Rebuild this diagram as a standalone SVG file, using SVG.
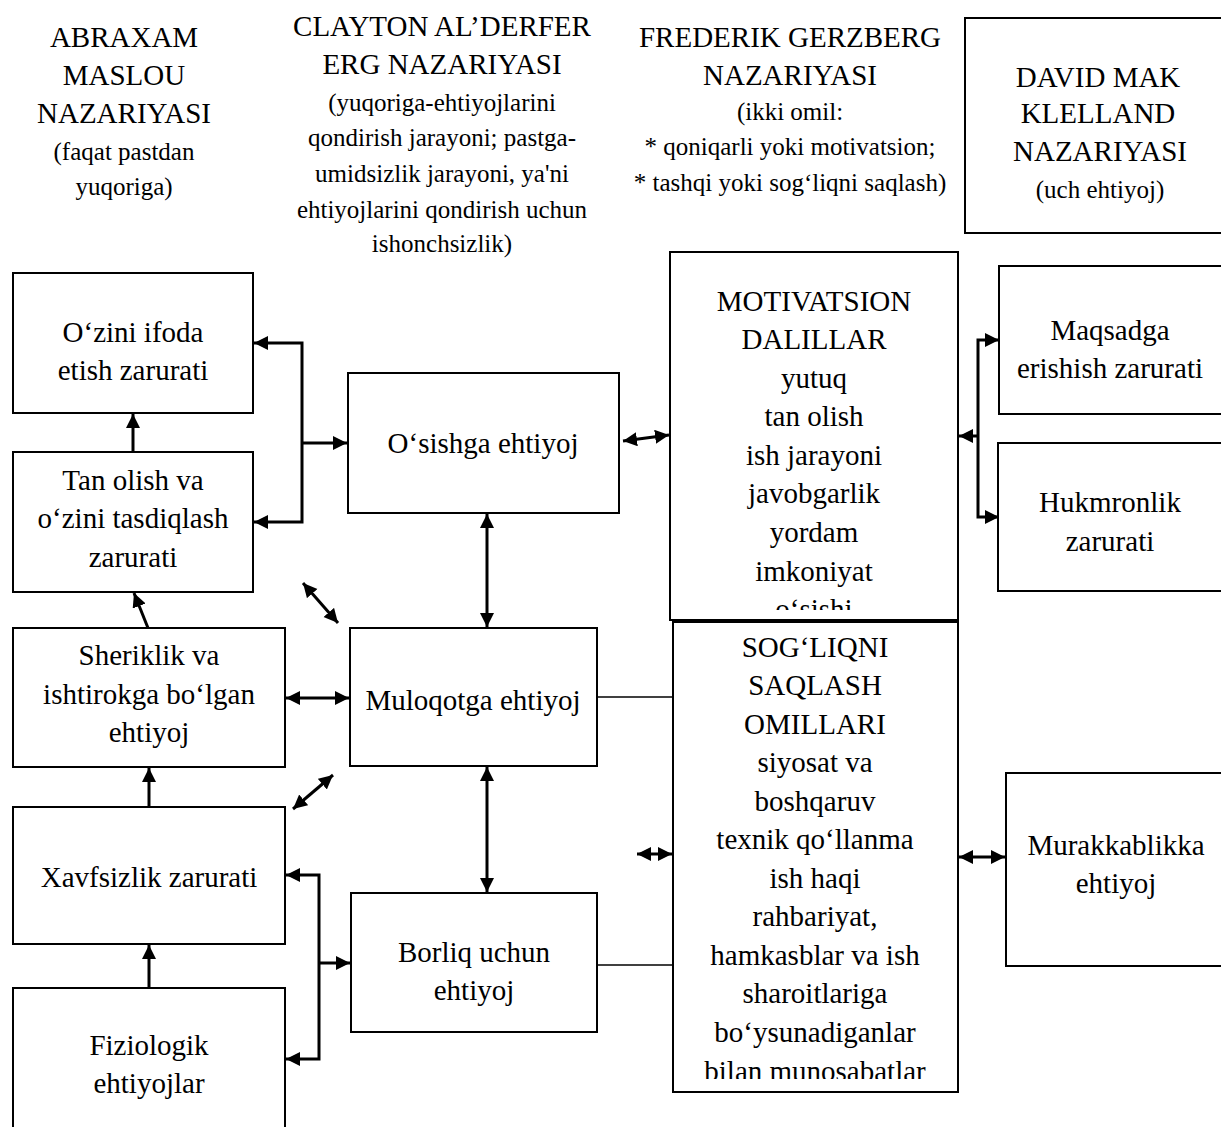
<svg xmlns="http://www.w3.org/2000/svg" width="1221" height="1127" viewBox="0 0 1221 1127">
<style>
text{font-family:"Liberation Serif","Times New Roman",serif;fill:#000;text-anchor:middle}
.b{font-size:29px}
.s{font-size:25px}
.t{font-size:29px}
.box{fill:#fff;stroke:#000;stroke-width:2}
.c{fill:none;stroke:#000;stroke-width:3}
.p{fill:none;stroke:#000;stroke-width:1.5}
</style>
<defs>
<marker id="ah" markerUnits="userSpaceOnUse" markerWidth="16" markerHeight="16" refX="14" refY="7" orient="auto-start-reverse" viewBox="0 0 16 16">
<path d="M0,0 L14,7 L0,14 z" fill="#000"/>
</marker>
<clipPath id="clipM"><rect x="670" y="252" width="288" height="358"/></clipPath>
<clipPath id="clipS"><rect x="673" y="622" width="285" height="457"/></clipPath>
</defs>

<g id="header-maslou">
<text class="b" x="124" y="47">ABRAXAM</text>
<text class="b" x="124" y="85">MASLOU</text>
<text class="b" x="124" y="123">NAZARIYASI</text>
<text class="s" x="124" y="160">(faqat pastdan</text>
<text class="s" x="124" y="195">yuqoriga)</text>
</g>
<g id="header-alderfer">
<text class="b" x="442" y="36">CLAYTON AL’DERFER</text>
<text class="b" x="442" y="74">ERG NAZARIYASI</text>
<text class="s" x="442" y="111">(yuqoriga-ehtiyojlarini</text>
<text class="s" x="442" y="146">qondirish jarayoni; pastga-</text>
<text class="s" x="442" y="182">umidsizlik jarayoni, ya'ni</text>
<text class="s" x="442" y="218">ehtiyojlarini qondirish uchun</text>
<text class="s" x="442" y="252">ishonchsizlik)</text>
</g>
<g id="header-gerzberg">
<text class="b" x="790" y="47">FREDERIK GERZBERG</text>
<text class="b" x="790" y="85">NAZARIYASI</text>
<text class="s" x="790" y="120">(ikki omil:</text>
<text class="s" x="790" y="155">* qoniqarli yoki motivatsion;</text>
<text class="s" x="790" y="191">* tashqi yoki sog‘liqni saqlash)</text>
</g>
<g id="header-david">
<rect class="box" x="965" y="18" width="270" height="215"/>
<text class="b" x="1098" y="87">DAVID MAK</text>
<text class="b" x="1098" y="123">KLELLAND</text>
<text class="b" x="1100" y="161">NAZARIYASI</text>
<text class="s" x="1100" y="198">(uch ehtiyoj)</text>
</g>

<g id="n-ozini">
<rect class="box" x="13" y="273" width="240" height="140"/>
<text class="t" x="133" y="342">O‘zini ifoda</text>
<text class="t" x="133" y="380">etish zarurati</text>
</g>
<g id="n-tanolish">
<rect class="box" x="13" y="452" width="240" height="140"/>
<text class="t" x="133" y="490">Tan olish va</text>
<text class="t" x="133" y="528">o‘zini tasdiqlash</text>
<text class="t" x="133" y="567">zarurati</text>
</g>
<g id="n-sheriklik">
<rect class="box" x="13" y="628" width="272" height="139"/>
<text class="t" x="149" y="665">Sheriklik va</text>
<text class="t" x="149" y="704">ishtirokga bo‘lgan</text>
<text class="t" x="149" y="742">ehtiyoj</text>
</g>
<g id="n-xavfsizlik">
<rect class="box" x="13" y="807" width="272" height="137"/>
<text class="t" x="149" y="887">Xavfsizlik zarurati</text>
</g>
<g id="n-fiziologik">
<rect class="box" x="13" y="988" width="272" height="145"/>
<text class="t" x="149" y="1055">Fiziologik</text>
<text class="t" x="149" y="1093">ehtiyojlar</text>
</g>
<g id="n-osishga">
<rect class="box" x="348" y="373" width="271" height="140"/>
<text class="t" x="483" y="453">O‘sishga ehtiyoj</text>
</g>
<g id="n-muloqotga">
<rect class="box" x="350" y="628" width="247" height="138"/>
<text class="t" x="473" y="710">Muloqotga ehtiyoj</text>
</g>
<g id="n-borliq">
<rect class="box" x="351" y="893" width="246" height="139"/>
<text class="t" x="474" y="962">Borliq uchun</text>
<text class="t" x="474" y="1000">ehtiyoj</text>
</g>
<g id="n-motivatsion">
<rect class="box" x="670" y="252" width="288" height="368"/>
<g clip-path="url(#clipM)">
<text class="t" x="814" y="311">MOTIVATSION</text>
<text class="t" x="814" y="349">DALILLAR</text>
<text class="t" x="814" y="388">yutuq</text>
<text class="t" x="814" y="426">tan olish</text>
<text class="t" x="814" y="465">ish jarayoni</text>
<text class="t" x="814" y="503">javobgarlik</text>
<text class="t" x="814" y="542">yordam</text>
<text class="t" x="814" y="581">imkoniyat</text>
<text class="t" x="814" y="619">o‘sishi</text>
</g>
</g>
<g id="n-sogliqni">
<rect class="box" x="673" y="622" width="285" height="470"/>
<g clip-path="url(#clipS)">
<text class="t" x="815" y="657">SOG‘LIQNI</text>
<text class="t" x="815" y="695">SAQLASH</text>
<text class="t" x="815" y="734">OMILLARI</text>
<text class="t" x="815" y="772">siyosat va</text>
<text class="t" x="815" y="811">boshqaruv</text>
<text class="t" x="815" y="849">texnik qo‘llanma</text>
<text class="t" x="815" y="888">ish haqi</text>
<text class="t" x="815" y="926">rahbariyat,</text>
<text class="t" x="815" y="965">hamkasblar va ish</text>
<text class="t" x="815" y="1003">sharoitlariga</text>
<text class="t" x="815" y="1042">bo‘ysunadiganlar</text>
<text class="t" x="815" y="1081">bilan munosabatlar</text>
</g>
</g>
<g id="n-maqsadga">
<rect class="box" x="999" y="266" width="226" height="148"/>
<text class="t" x="1110" y="340">Maqsadga</text>
<text class="t" x="1110" y="378">erishish zarurati</text>
</g>
<g id="n-hukmronlik">
<rect class="box" x="998" y="443" width="227" height="148"/>
<text class="t" x="1110" y="512">Hukmronlik</text>
<text class="t" x="1110" y="551">zarurati</text>
</g>
<g id="n-murakkablikka">
<rect class="box" x="1006" y="773" width="219" height="193"/>
<text class="t" x="1116" y="855">Murakkablikka</text>
<text class="t" x="1116" y="893">ehtiyoj</text>
</g>

<g id="connectors">
<line class="c" x1="133" y1="452" x2="133" y2="414" marker-end="url(#ah)"/>
<line class="c" x1="148" y1="628" x2="134" y2="593" marker-end="url(#ah)"/>
<line class="c" x1="149" y1="807" x2="149" y2="768" marker-end="url(#ah)"/>
<line class="c" x1="149" y1="988" x2="149" y2="945" marker-end="url(#ah)"/>
<polyline class="c" points="254,343 302,343 302,522 254,522" marker-start="url(#ah)" marker-end="url(#ah)"/>
<line class="c" x1="302" y1="443" x2="347" y2="443" marker-end="url(#ah)"/>
<polyline class="c" points="286,875 319,875 319,1059 286,1059" marker-start="url(#ah)" marker-end="url(#ah)"/>
<line class="c" x1="319" y1="963" x2="350" y2="963" marker-end="url(#ah)"/>
<line class="c" x1="286" y1="698" x2="349" y2="698" marker-start="url(#ah)" marker-end="url(#ah)"/>
<line class="c" x1="303" y1="583" x2="338" y2="623" marker-start="url(#ah)" marker-end="url(#ah)"/>
<line class="c" x1="333" y1="775" x2="293" y2="809" marker-start="url(#ah)" marker-end="url(#ah)"/>
<line class="c" x1="487" y1="514" x2="487" y2="627" marker-start="url(#ah)" marker-end="url(#ah)"/>
<line class="c" x1="487" y1="767" x2="487" y2="892" marker-start="url(#ah)" marker-end="url(#ah)"/>
<line class="c" x1="623" y1="441" x2="669" y2="435" marker-start="url(#ah)" marker-end="url(#ah)"/>
<line class="p" x1="597" y1="697" x2="673" y2="697"/>
<line class="p" x1="597" y1="965" x2="673" y2="965"/>
<line class="c" x1="637" y1="854" x2="672" y2="854" marker-start="url(#ah)" marker-end="url(#ah)"/>
<line class="c" x1="959" y1="857" x2="1005" y2="857" marker-start="url(#ah)" marker-end="url(#ah)"/>
<polyline class="c" points="999,340 978,340 978,517 999,517" marker-start="url(#ah)" marker-end="url(#ah)"/>
<line class="c" x1="978" y1="436" x2="959" y2="436" marker-end="url(#ah)"/>
</g>
</svg>
